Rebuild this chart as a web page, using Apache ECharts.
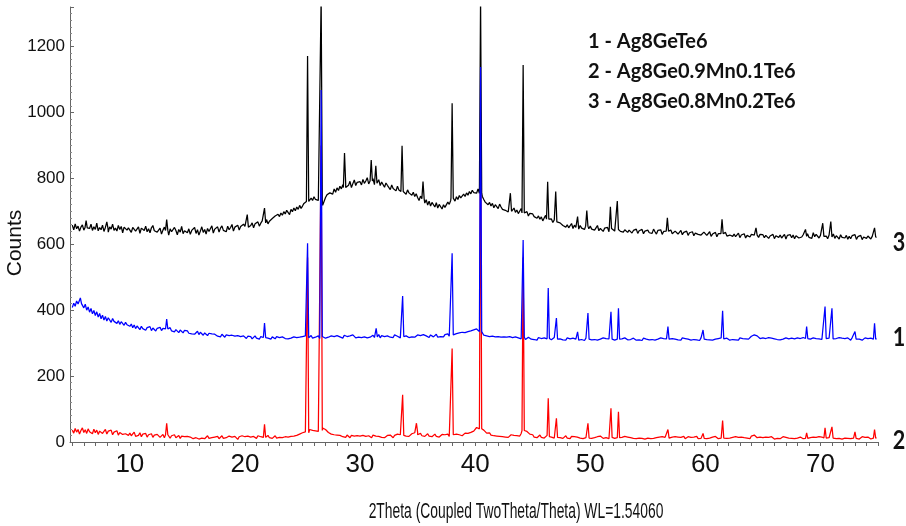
<!DOCTYPE html>
<html><head><meta charset="utf-8">
<script src="https://cdn.jsdelivr.net/npm/echarts@6/dist/echarts.min.js"></script>
<style>html,body{margin:0;padding:0;background:#fff}#c{width:906px;height:526px}</style>
</head><body><div id="c"></div>
<script>
// scan grid: 2theta from 5.000 in steps of 0.125
const scanStart = 5.0, scanStep = 0.125;

// 3 - Ag8Ge0.8Mn0.2Te6 (black)
const blackCounts = [
658,644,662,647,655,640,652,659,643,654,638,656,648,661,642,653,645,664,641,651,
644,658,639,651,655,637,653,646,661,642,649,640,657,645,654,635,652,656,643,650,
648,636,651,656,640,644,653,633,649,652,642,655,638,647,635,650,657,641,645,637,
636,649,631,643,652,634,640,628,647,638,633,651,642,629,645,637,654,632,641,646,
635,647,630,642,639,651,633,644,628,640,653,636,645,631,648,639,643,656,634,646,
641,653,637,649,656,642,647,638,655,644,651,660,640,652,646,658,643,654,648,661,
654,646,660,651,657,665,650,662,658,668,655,664,671,660,667,675,662,670,666,678,
675,686,680,691,684,695,688,699,692,703,697,690,706,699,710,702,713,706,718,709,
716,724,730,735,738,731,740,733,744,736,741,733,738,740,718,724,742,750,745,756,
762,752,768,758,771,763,776,768,781,770,786,775,779,791,772,784,795,778,788,782,
790,780,797,785,792,802,783,794,788,799,781,790,784,796,778,789,783,773,786,779,
775,766,780,769,773,762,776,765,770,758,767,761,752,765,756,760,749,758,745,753,
742,733,746,728,738,725,735,719,731,716,727,722,713,726,710,721,716,707,720,712,
716,728,721,733,726,739,731,744,736,748,741,738,752,745,756,749,760,753,764,757,
762,755,768,760,771,745,736,728,733,720,727,716,724,711,720,715,708,722,713,706,
712,703,709,698,706,715,700,710,697,704,693,701,708,695,703,690,699,686,694,688,
692,684,689,679,686,676,683,671,680,688,674,681,670,677,666,674,669,662,672,665,
664,657,661,652,659,650,656,663,648,658,651,655,646,657,649,654,645,656,650,647,
655,646,652,643,650,657,641,648,653,639,649,644,651,638,647,642,650,640,646,643,
648,639,645,637,644,650,636,643,647,634,642,638,646,633,641,637,645,632,640,644,
643,635,641,633,646,638,631,642,636,644,630,639,634,641,629,638,643,632,637,640,
639,631,637,642,629,636,633,640,627,635,631,638,626,634,639,630,636,628,633,637,
635,627,633,638,624,631,629,636,623,632,627,634,622,630,636,625,631,628,634,624,
631,623,629,634,620,628,625,632,619,627,633,622,630,624,628,636,626,621,630,624,
629,620,627,632,618,625,622,630,617,626,631,621,628,619,624,630,616,627,622,629,
620,628,617,626,631,619,625,622,629,616,624,632,621,627,618,635,623,630,626,619,
627,619,630,621,625,617,628,620,624,631,618,626,622,616,629,621,625,619,627,615,
624,617,626,620,629,615,623,619,627,614,622,628,618,625,620,616,624,619,627,621
];
// 1 - Ag8GeTe6 (blue)
const blueCounts = [
408,421,412,428,419,434,415,425,407,418,400,410,394,405,389,399,384,395,379,390,
374,385,370,381,367,377,372,363,375,366,370,360,368,357,365,361,354,363,356,360,
351,358,347,355,344,352,348,341,351,344,349,339,347,343,350,338,346,342,337,345,
341,348,338,345,343,336,344,340,347,337,342,334,341,338,332,340,336,331,339,334,
337,330,335,328,334,327,332,336,326,333,328,324,331,327,323,330,325,328,322,327,
326,321,324,319,327,322,318,325,320,323,317,324,319,321,316,323,318,320,315,322,
319,314,321,316,320,313,318,322,315,319,312,320,316,318,313,321,315,317,312,319,
318,313,320,315,317,312,319,316,314,320,313,318,315,311,319,314,317,312,318,315,
320,314,322,316,319,317,323,315,321,318,316,322,314,319,317,323,315,320,318,321,
322,316,320,314,323,317,319,321,315,324,318,320,316,322,317,325,319,316,321,318,
323,317,321,319,325,316,322,318,320,324,317,321,319,326,316,323,318,320,315,322,
324,318,322,317,325,319,321,323,316,324,320,318,322,326,317,323,319,321,318,324,
325,319,323,318,326,320,322,324,317,325,321,319,323,327,318,324,320,322,319,326,
323,328,321,327,325,330,324,329,326,331,328,333,327,332,330,335,331,337,334,340,
338,343,347,350,345,330,324,318,322,316,320,315,321,317,319,314,320,316,318,313,
319,314,318,313,320,315,317,312,319,314,316,321,313,318,315,311,317,318,316,312,
316,311,315,309,317,312,314,310,316,311,313,308,315,310,312,317,309,314,311,313,
315,310,314,309,316,311,313,308,315,310,312,316,309,314,311,313,308,315,310,312,
314,310,316,311,313,309,315,312,310,316,311,314,309,313,310,315,312,309,314,311,
315,310,313,309,316,312,310,314,311,308,315,312,309,314,310,313,308,315,311,312,
314,310,316,311,313,309,315,312,310,316,311,314,308,313,310,315,309,314,311,312,
315,310,313,309,316,312,314,310,312,316,309,313,311,315,310,314,308,316,312,311,
314,311,316,310,313,309,315,312,310,314,311,316,309,313,310,315,312,309,314,311,
315,310,313,309,316,312,314,311,313,317,312,316,321,318,325,329,322,318,314,311,
316,311,314,310,317,312,315,309,313,316,311,314,310,315,312,309,316,311,313,310,
315,311,313,309,316,312,314,310,317,311,313,309,315,312,310,316,311,314,309,313,
316,311,314,310,317,312,315,309,313,316,311,314,310,317,312,315,309,314,311,316,
313,309,316,311,314,310,317,312,315,309,313,316,310,314,311,315,309,316,312,314
];
// 2 - Ag8Ge0.9Mn0.1Te6 (red)
const redCounts = [
36,27,41,30,38,24,35,43,29,37,26,40,31,34,25,39,28,36,23,33,
35,26,31,38,24,33,28,36,22,30,27,34,21,29,32,23,28,25,31,20,
27,19,25,30,17,23,20,28,16,24,21,26,15,22,19,25,14,21,18,23,
20,14,19,23,13,18,15,21,12,19,16,22,13,17,20,11,18,14,16,12,
17,11,15,19,10,16,13,18,9,15,12,17,10,14,19,11,16,13,8,15,
12,17,10,15,19,11,16,13,9,18,12,15,10,17,13,8,16,11,19,14,
16,10,18,12,15,9,17,13,11,19,14,16,10,18,12,15,20,13,17,11,
15,19,12,17,14,20,13,18,16,21,15,19,17,23,18,22,20,26,24,30,
28,34,31,33,36,38,33,35,30,34,37,32,36,40,42,45,38,33,29,26,
24,19,22,17,21,15,20,24,16,19,14,21,17,13,20,16,18,12,19,15,
18,12,20,14,17,11,19,15,13,21,16,18,12,17,22,14,19,13,16,20,
15,21,17,13,20,16,24,19,22,26,24,21,18,23,17,20,25,22,28,24,
30,22,26,19,23,17,21,25,18,22,16,20,24,17,21,15,19,23,18,22,
19,24,17,22,26,23,20,24,18,22,25,19,23,27,21,26,24,29,27,33,
36,44,50,48,46,42,36,31,27,24,28,21,25,19,23,18,22,17,21,16,
20,15,19,14,18,22,16,20,15,19,23,18,26,30,36,38,32,27,24,20,
22,15,19,13,18,21,14,17,12,16,20,13,18,15,19,12,17,14,18,13,
16,11,15,19,12,14,10,17,13,16,11,15,18,12,14,10,16,13,17,12,
15,11,17,13,10,16,12,18,14,11,15,13,17,10,14,12,16,11,15,13,
16,11,14,10,17,12,15,9,13,16,11,14,10,15,12,17,11,13,9,14,
12,16,10,14,11,17,13,9,15,12,16,10,14,11,18,13,10,15,12,16,
11,15,9,14,12,17,10,13,16,11,14,9,15,12,17,10,13,11,16,12,
14,10,16,12,9,15,11,17,13,10,14,12,16,9,13,11,15,12,10,14,
12,16,10,14,11,15,9,13,17,12,15,10,18,14,21,17,13,11,15,10,
13,9,15,11,14,10,16,12,9,14,11,15,10,13,16,11,14,9,12,15,
11,14,10,16,12,9,15,13,10,14,12,16,11,13,9,15,12,14,10,16,
12,15,10,14,11,16,13,9,15,12,14,10,16,11,13,9,15,12,14,11,
13,10,15,12,16,11,14,9,13,16,11,14,10,15,12,9,14,11,16,13
];

// reflections: [2theta, peak counts, counts at the foot]
const blackPeaks = [
[6.2,672,650],[8.0,668,648],[13.2,675,642],[20.2,690,652],[21.7,710,665],
[25.44,1171,730],[26.62,1350,735],[28.65,877,772],[30.97,856,792],[31.37,838,785],
[33.65,899,760],[35.47,790,738],[38.0,1028,740],[40.47,1350,755],[43.06,755,700],
[44.17,1144,695],[46.3,790,676],[47.0,760,668],[48.9,684,650],[49.7,702,655],
[51.75,714,648],[52.35,731,645],[56.7,680,640],[61.45,676,632],[64.4,650,628],
[68.7,645,624],[70.2,664,624],[70.9,669,622],[74.7,650,622]
];
const bluePeaks = [
[5.7,437,420],[13.2,373,343],[21.7,361,317],[25.44,603,316],[26.62,1068,320],
[31.4,345,318],[33.7,443,320],[38.0,573,325],[40.47,1138,335],[44.17,613,318],
[46.35,467,314],[47.06,376,312],[48.9,334,311],[49.8,391,312],[51.8,395,312],
[52.45,406,312],[56.75,350,312],[59.8,340,312],[61.5,398,313],[68.8,350,314],
[70.4,411,314],[71.0,406,313],[73.0,335,312],[74.7,360,312]
];
const redPeaks = [
[13.2,57,22],[21.7,54,14],[25.44,560,28],[26.62,900,35],[33.7,143,20],
[34.9,57,22],[38.0,284,22],[40.47,1000,40],[44.17,560,35],[46.35,133,16],
[47.06,72,14],[49.8,57,12],[51.8,102,14],[52.45,92,13],[56.75,38,12],
[59.8,26,11],[61.5,65,12],[68.8,28,11],[70.4,43,12],[71.0,46,12],
[73.0,31,11],[74.7,38,12]
];

const xTickLabels = [10,20,30,40,50,60,70];
const legendLines = ['1 - Ag8GeTe6','2 - Ag8Ge0.9Mn0.1Te6','3 - Ag8Ge0.8Mn0.2Te6'];
const curveTags = ['3','1','2'];

function build(base, peaks){
  const pts = [];
  base.forEach((v,i)=>{
    const x = +(scanStart + i*scanStep).toFixed(3);
    if(!peaks.some(p=>Math.abs(p[0]-x) < 0.1)) pts.push([x,v]);
  });
  peaks.forEach(p=>{
    pts.push([+(p[0]-0.1).toFixed(3),p[2]],[p[0],p[1]],[+(p[0]+0.1).toFixed(3),p[2]]);
  });
  pts.sort((a,b)=>a[0]-b[0]);
  return pts;
}
const minorX = [];
for(let t=5;t<=75;t++) minorX.push(t);

const sans = "'Liberation Sans',Arial,sans-serif";
const chart = echarts.init(document.getElementById('c'), null, {renderer:'canvas'});
const lineSeries = (name, data, color, z) => ({
  name, type:'line', data, showSymbol:false, symbol:'none', z,
  lineStyle:{color, width:1.25}, animation:false, clip:true
});
const tagFont = "bold 27px Lato, sans-serif";
const legFont = "bold 20px Lato, 'Open Sans', sans-serif";
chart.setOption({
  animation:false,
  grid:{left:70, right:28, top:7, bottom:84, outerBoundsMode:'none', containLabel:false},
  xAxis:{
    type:'value', min:4.8, max:75,
    axisLine:{lineStyle:{color:'#666', width:1}},
    axisTick:{customValues:minorX, length:4, lineStyle:{color:'#666'}},
    axisLabel:{customValues:xTickLabels, fontSize:26, fontFamily:sans, color:'#111', margin:10},
    splitLine:{show:false}
  },
  yAxis:{
    type:'value', min:0, max:1320, interval:200,
    axisLine:{show:true, lineStyle:{color:'#666', width:1}},
    axisTick:{show:true, inside:true, length:4, lineStyle:{color:'#666'}},
    minorTick:{show:true, splitNumber:10, length:2, lineStyle:{color:'#888'}},
    axisLabel:{fontSize:17, fontFamily:sans, color:'#111', margin:5, showMaxLabel:false,
      formatter:(v)=>String(v)},
    splitLine:{show:false}
  },
  series:[
    lineSeries('Ag8Ge0.9Mn0.1Te6', build(redCounts, redPeaks), '#ff0000', 1),
    lineSeries('Ag8Ge0.8Mn0.2Te6', build(blackCounts, blackPeaks), '#000000', 2),
    lineSeries('Ag8GeTe6', build(blueCounts, bluePeaks), '#0000ff', 3)
  ],
  graphic:[
    {type:'text', x:588, y:42, style:{text:legendLines[0], font:legFont, fill:'#111', verticalAlign:'middle'}},
    {type:'text', x:588, y:72, style:{text:legendLines[1], font:legFont, fill:'#111', verticalAlign:'middle'}},
    {type:'text', x:588, y:102, style:{text:legendLines[2], font:legFont, fill:'#111', verticalAlign:'middle'}},
    {type:'text', x:899, y:242, scaleX:0.8, style:{text:curveTags[0], font:tagFont, fill:'#111', align:'center', verticalAlign:'middle'}},
    {type:'text', x:899, y:337, scaleX:0.8, style:{text:curveTags[1], font:tagFont, fill:'#111', align:'center', verticalAlign:'middle'}},
    {type:'text', x:899, y:440, scaleX:0.8, style:{text:curveTags[2], font:tagFont, fill:'#111', align:'center', verticalAlign:'middle'}},
    {type:'text', x:15, y:243, rotation:Math.PI/2, style:{text:'Counts', font:"21px " + sans, fill:'#111', align:'center', verticalAlign:'middle'}},
    {type:'text', x:516, y:512, scaleX:0.63, style:{text:'2Theta (Coupled TwoTheta/Theta) WL=1.54060', font:"22px " + sans, fill:'#111', align:'center', verticalAlign:'middle'}}
  ]
});
</script>
</body></html>
